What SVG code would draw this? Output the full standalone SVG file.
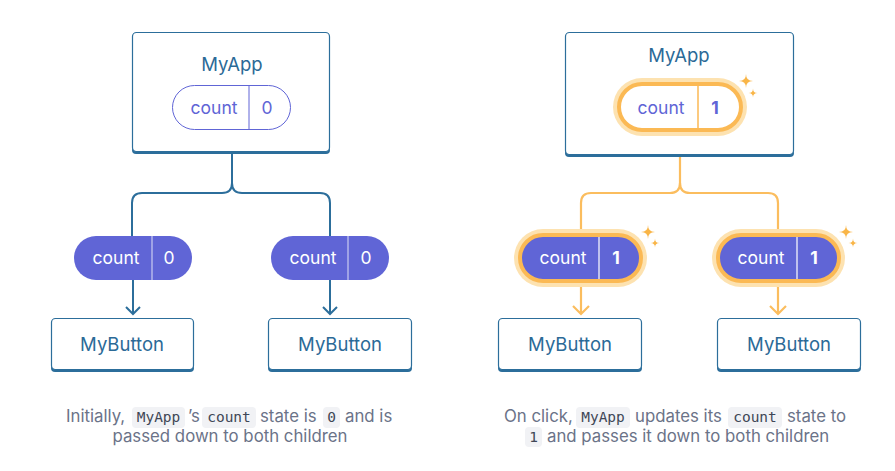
<svg xmlns="http://www.w3.org/2000/svg" width="895" height="471" viewBox="0 0 895 471">
<style>
.box{fill:#fff;stroke:#2c6e9b;stroke-width:1.2}
.shadow{fill:#2c6e9b}
.name{font-family:Inter,"Noto Sans",sans-serif;font-size:18.5px;fill:#2b6a97;text-anchor:middle}
.pill{fill:#6065d6}
.pillw{fill:#fff;stroke:#6065d6;stroke-width:1}
.lblw{font-family:Inter,"Noto Sans",sans-serif;font-size:17.5px;fill:#fff;text-anchor:middle}
.lblp{font-family:Inter,"Noto Sans",sans-serif;font-size:17.5px;fill:#6065d6;text-anchor:middle}
.bold{font-weight:700}
.glow{fill:#fde2b0}
.ring{stroke:#fbb954;stroke-width:4}
.blue{fill:none;stroke:#2c6e9b;stroke-width:2}
.orange{fill:none;stroke:#fbbd5e;stroke-width:2.2}
.spark{fill:#f9b547}
.cap{font-family:Inter,"Noto Sans",sans-serif;font-size:16.8px;fill:#6b7388}
.code{font-family:"DejaVu Sans Mono","Liberation Mono",monospace;font-size:14.5px;fill:#404756;text-anchor:middle}
.cbg{fill:#f1f2f5}
</style>
<defs>
<path id="star" d="M0,-1 Q0,0 1,0 Q0,0 0,1 Q0,0 -1,0 Q0,0 0,-1 Z"/>
</defs>

<g id="connectors">
<path class="blue" d="M232 154 V183 Q232 193 222 193 H142 Q132 193 132 203 V236"/>
<path class="blue" d="M232 183 Q232 193 242 193 H320 Q330 193 330 203 V236"/>
<path class="blue" d="M133 280 V314 M126 307 L133 314 L140 307"/>
<path class="blue" d="M330 280 V314 M323 307 L330 314 L337 307"/>
<path class="orange" d="M680 157 V183 Q680 193 670 193 H591 Q581 193 581 203 V229"/>
<path class="orange" d="M680 183 Q680 193 690 193 H768 Q778 193 778 203 V229"/>
<path class="orange" d="M581 287 V314 M573 306 L581 314 L589 306"/>
<path class="orange" d="M778 287 V314 M770 306 L778 314 L786 306"/>
</g>

<g id="left-myapp">
<rect class="shadow" x="132" y="34" width="198" height="120" rx="4"/>
<rect class="box" x="132.5" y="32.5" width="197" height="119" rx="4"/>
<text class="name" x="232" y="71">MyApp</text>
<rect class="pillw" x="172.5" y="85.5" width="118" height="44" rx="22"/>
<line x1="249" y1="86" x2="249" y2="129" stroke="#6065d6" stroke-width="1"/>
<text class="lblp" x="214" y="114">count</text>
<text class="lblp" x="267" y="114">0</text>
</g>

<g id="left-pill-1">
<rect class="pill" x="74" y="236" width="118" height="44" rx="22"/>
<line x1="152" y1="236" x2="152" y2="280" stroke="#fff" stroke-opacity="0.8" stroke-width="1"/>
<text class="lblw" x="116" y="264">count</text>
<text class="lblw" x="169" y="264">0</text>
</g>
<g id="left-pill-2">
<rect class="pill" x="271" y="236" width="118" height="44" rx="22"/>
<line x1="348" y1="236" x2="348" y2="280" stroke="#fff" stroke-opacity="0.8" stroke-width="1"/>
<text class="lblw" x="313" y="264">count</text>
<text class="lblw" x="366" y="264">0</text>
</g>

<g id="left-button-1">
<rect class="shadow" x="51" y="320" width="143" height="52" rx="4"/>
<rect class="box" x="51.5" y="318.5" width="142" height="51" rx="4"/>
<text class="name" x="122" y="351">MyButton</text>
</g>
<g id="left-button-2">
<rect class="shadow" x="268" y="320" width="144" height="52" rx="4"/>
<rect class="box" x="268.5" y="318.5" width="143" height="51" rx="4"/>
<text class="name" x="340" y="351">MyButton</text>
</g>

<g id="right-myapp">
<rect class="shadow" x="565" y="34" width="229" height="123" rx="4"/>
<rect class="box" x="565.5" y="32.5" width="228" height="122" rx="4"/>
<text class="name" x="679" y="62">MyApp</text>
<rect class="glow" x="613" y="78" width="134" height="58" rx="29"/>
<rect class="ring" fill="#fff" x="619" y="84" width="122" height="46" rx="23"/>
<line x1="698" y1="86" x2="698" y2="128" stroke="#fbb954" stroke-width="1.5"/>
<text class="lblp" x="661" y="114">count</text>
<text class="lblp bold" x="715" y="114">1</text>
<use href="#star" class="spark" transform="translate(746 81) scale(7)"/>
<use href="#star" class="spark" transform="translate(753 93) scale(4.5)"/>
</g>

<g id="right-pill-1">
<rect class="glow" x="514" y="229" width="133" height="58" rx="29"/>
<rect class="pill ring" x="520" y="235" width="121" height="46" rx="23"/>
<line x1="599" y1="237" x2="599" y2="279" stroke="#fff" stroke-width="1.2"/>
<text class="lblw" x="563" y="264">count</text>
<text class="lblw bold" x="616" y="264">1</text>
<use href="#star" class="spark" transform="translate(648 232) scale(7)"/>
<use href="#star" class="spark" transform="translate(655 243) scale(4.5)"/>
</g>
<g id="right-pill-2">
<rect class="glow" x="712" y="229" width="133" height="58" rx="29"/>
<rect class="pill ring" x="718" y="235" width="121" height="46" rx="23"/>
<line x1="797" y1="237" x2="797" y2="279" stroke="#fff" stroke-width="1.2"/>
<text class="lblw" x="761" y="264">count</text>
<text class="lblw bold" x="814" y="264">1</text>
<use href="#star" class="spark" transform="translate(846 232) scale(7)"/>
<use href="#star" class="spark" transform="translate(853 243) scale(4.5)"/>
</g>

<g id="right-button-1">
<rect class="shadow" x="498" y="320" width="144" height="52" rx="4"/>
<rect class="box" x="498.5" y="318.5" width="143" height="51" rx="4"/>
<text class="name" x="570" y="351">MyButton</text>
</g>
<g id="right-button-2">
<rect class="shadow" x="717" y="320" width="144" height="52" rx="4"/>
<rect class="box" x="717.5" y="318.5" width="143" height="51" rx="4"/>
<text class="name" x="789" y="351">MyButton</text>
</g>

<g id="caption-left">
<rect class="cbg" x="132" y="407" width="53" height="21" rx="4"/>
<rect class="cbg" x="202" y="407" width="54" height="21" rx="4"/>
<rect class="cbg" x="323" y="407" width="17" height="21" rx="4"/>
<text class="cap" x="66" y="422">Initially,</text>
<text class="code" x="158.5" y="422">MyApp</text>
<text class="cap" x="188" y="422">’s</text>
<text class="code" x="229" y="422">count</text>
<text class="cap" x="260" y="422">state is</text>
<text class="code" x="331.5" y="422">0</text>
<text class="cap" x="345" y="422">and is</text>
<text class="cap" x="230" y="442" text-anchor="middle">passed down to both children</text>
</g>

<g id="caption-right">
<rect class="cbg" x="576" y="407" width="54" height="21" rx="4"/>
<rect class="cbg" x="728" y="407" width="54" height="21" rx="4"/>
<rect class="cbg" x="525" y="427" width="17" height="20" rx="4"/>
<text class="cap" x="504" y="422">On click,</text>
<text class="code" x="603" y="422">MyApp</text>
<text class="cap" x="635" y="422">updates its</text>
<text class="code" x="755" y="422">count</text>
<text class="cap" x="787" y="422">state to</text>
<text class="code" x="533.5" y="442">1</text>
<text class="cap" x="547" y="442">and passes it down to both children</text>
</g>
</svg>
